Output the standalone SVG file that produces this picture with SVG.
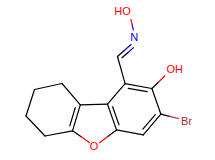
<svg xmlns="http://www.w3.org/2000/svg" width="215" height="160" viewBox="0 0 215 160">
<style>
.b{stroke:#000;stroke-width:1.2;fill:none;stroke-linecap:round}
.r{stroke:#F00;stroke-width:1.2;fill:none;stroke-linecap:round}
.n{stroke:#00F;stroke-width:1.2;fill:none;stroke-linecap:round}
.br{stroke:#A62929;stroke-width:1.2;fill:none;stroke-linecap:round}
text{font-family:"Liberation Sans",Arial,sans-serif;font-size:11px}
.tO{fill:#F00}.tN{fill:#00F}.tBr{fill:#A62929}
</style>
<rect width="215" height="160" fill="#fff"/>
<g id="bonds">
<!-- benzene -->
<line class="b" x1="125.1" y1="83.6" x2="151.9" y2="88.5"/>
<line class="b" x1="128.3" y1="88.3" x2="147.2" y2="91.7"/>
<line class="b" x1="151.9" y1="88.5" x2="160.9" y2="114.2"/>
<line class="b" x1="160.9" y1="114.2" x2="143.3" y2="134.8"/>
<line class="b" x1="155.3" y1="114.6" x2="142.9" y2="129.2"/>
<line class="b" x1="143.3" y1="134.8" x2="116.5" y2="129.9"/>
<line class="b" x1="116.5" y1="129.9" x2="107.5" y2="104.2"/>
<line class="b" x1="119.0" y1="124.8" x2="112.6" y2="106.7"/>
<line class="b" x1="107.5" y1="104.2" x2="125.1" y2="83.6"/>
<!-- furan -->
<line class="b" x1="107.5" y1="104.2" x2="80.3" y2="104.8"/>
<line class="b" x1="80.3" y1="104.8" x2="72.5" y2="130.8"/>
<line class="b" x1="75.3" y1="107.5" x2="69.8" y2="125.8"/>
<line class="b" x1="116.5" y1="129.9" x2="108.1" y2="136.3"/>
<line class="r" x1="108.1" y1="136.3" x2="99.6" y2="142.7"/>
<line class="b" x1="72.5" y1="130.8" x2="81.2" y2="136.8"/>
<line class="r" x1="81.2" y1="136.8" x2="89.6" y2="142.7"/>
<!-- cyclohexene -->
<line class="b" x1="80.3" y1="104.8" x2="62" y2="83.5"/>
<line class="b" x1="62" y1="83.5" x2="34.5" y2="89.5"/>
<line class="b" x1="34.5" y1="89.5" x2="26" y2="116"/>
<line class="b" x1="26" y1="116" x2="45" y2="136"/>
<line class="b" x1="45" y1="136" x2="72.5" y2="130.8"/>
<!-- substituents -->
<line class="b" x1="151.9" y1="88.5" x2="158.4" y2="82.2"/>
<line class="r" x1="158.4" y1="82.2" x2="165" y2="75.8"/>
<line class="b" x1="160.9" y1="114.2" x2="169.5" y2="116.3"/>
<line class="br" x1="169.5" y1="116.3" x2="178.5" y2="118.5"/>
<line class="b" x1="125.1" y1="83.6" x2="117.5" y2="56.5"/>
<line class="b" x1="117.5" y1="56.5" x2="124.3" y2="50.5"/>
<line class="n" x1="124.3" y1="50.5" x2="131" y2="44.5"/>
<line class="b" x1="122" y1="57.8" x2="127.8" y2="52.7"/>
<line class="n" x1="127.8" y1="52.7" x2="133.5" y2="47.6"/>
<line class="n" x1="133.3" y1="30" x2="132.2" y2="24.8"/>
<line class="r" x1="132.2" y1="24.8" x2="131" y2="19.5"/>
</g>
<g id="atom-O-furan"><text class="tO" x="94" y="150" text-anchor="middle">O</text></g>
<g id="atom-OH"><text class="tO" x="166.4" y="73">OH</text></g>
<g id="atom-Br"><text class="tBr" x="181" y="125">Br</text></g>
<g id="atom-N"><text class="tN" x="134.3" y="40.5" text-anchor="middle">N</text></g>
<g id="atom-HO"><text class="tO" x="122.5" y="15" text-anchor="middle">HO</text></g>
</svg>
